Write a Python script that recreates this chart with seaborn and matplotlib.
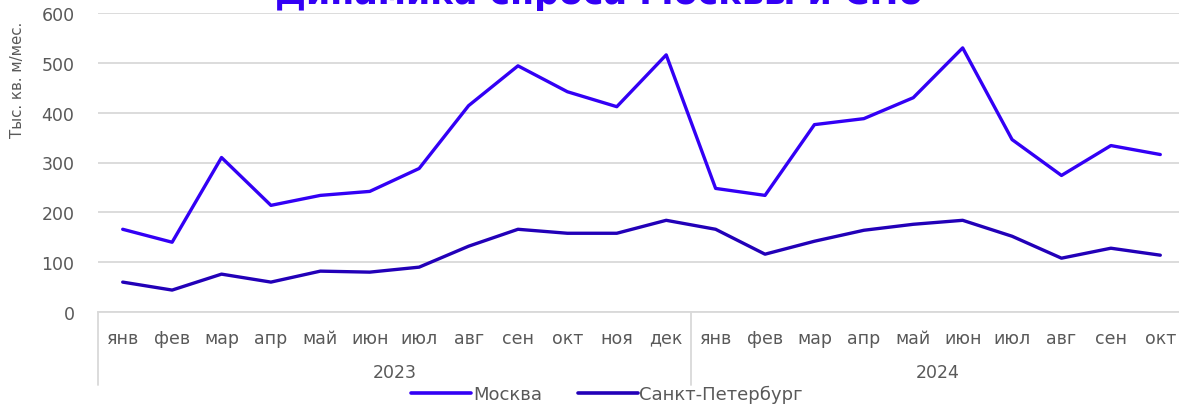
import matplotlib
matplotlib.use('Agg')
import matplotlib.pyplot as plt
import matplotlib.transforms as mtransforms
import seaborn as sns
import numpy as np
import pandas as pd

# ── Данные ─────────────────────────────────────────────────────────
months = ['янв', 'фев', 'мар', 'апр', 'май', 'июн', 'июл', 'авг', 'сен', 'окт', 'ноя', 'дек',
          'янв', 'фев', 'мар', 'апр', 'май', 'июн', 'июл', 'авг', 'сен', 'окт']
years = ['2023', '2024']
year_sizes = [12, 10]
moscow = [166, 140, 310, 214, 234, 242, 288, 414, 494, 442, 412, 516,
          248, 234, 376, 388, 430, 530, 346, 274, 334, 316]
spb = [60, 44, 76, 60, 82, 80, 90, 132, 166, 158, 158, 184,
       166, 116, 142, 164, 176, 184, 152, 108, 128, 114]
series_names = ['Москва', 'Санкт-Петербург']

COL_MSK = '#3300F5'
COL_SPB = '#2200B8'
GRAY = '#595959'
GRID = '#D9D9D9'

# ── Стиль ──────────────────────────────────────────────────────────
sns.set_theme(style='white')
plt.rcParams['font.family'] = ['DejaVu Sans']

W, H = 1179, 406
fig = plt.figure(figsize=(W / 100, H / 100), dpi=100)
n = len(months)
left_px, right_px, top_px, bot_px = 98, 1185, 14, 313
ax = fig.add_axes([left_px / W, 1 - bot_px / H, (right_px - left_px) / W, (bot_px - top_px) / H])

df = pd.DataFrame({
    'idx': np.tile(np.arange(n), 2),
    'val': moscow + spb,
    'city': [series_names[0]] * n + [series_names[1]] * n,
})
sns.lineplot(data=df, x='idx', y='val', hue='city', palette=[COL_MSK, COL_SPB],
             linewidth=2.4, ax=ax, legend=False)

ax.set_xlim(-0.5, n - 0.5)
ax.set_ylim(0, 600)
ax.set_yticks(range(0, 601, 100))
ax.yaxis.grid(True, color=GRID, linewidth=1.3)
ax.set_axisbelow(True)
for s in ['left', 'right', 'top']:
    ax.spines[s].set_visible(False)
ax.spines['bottom'].set_color(GRID)
ax.spines['bottom'].set_linewidth(1.3)
ax.tick_params(axis='y', length=0, pad=17, labelsize=12.5, labelcolor=GRAY)
ax.set_xticks(range(n))
ax.set_xticklabels(months)
ax.tick_params(axis='x', length=0, pad=12, labelsize=12.5, labelcolor=GRAY)
ax.set_xlabel('')
ax.set_ylabel('')

# вертикальные разделители и подписи годов
trans = mtransforms.blended_transform_factory(ax.transData, ax.transAxes)
start = 0
bounds = [-0.5]
for yr, sz in zip(years, year_sizes):
    ax.text(start + (sz - 1) / 2, -0.2, yr, transform=trans, ha='center', va='center',
            fontsize=12.5, color=GRAY)
    start += sz
    bounds.append(start - 0.5)
for b in bounds:
    ax.plot([b, b], [0, -0.245], transform=trans, color=GRID, linewidth=1.3, clip_on=False)

fig.text(18 / W, 1 - 80 / H, 'Тыс. кв. м/мес.', rotation=90, ha='center', va='center',
         fontsize=10.8, color=GRAY)

fig.text(0.508, 1 - 4 / H, 'Динамика спроса Москвы и СПб', ha='center', va='baseline',
         fontsize=25, fontweight='bold', color=COL_MSK)

handles = [plt.Line2D([], [], color=COL_MSK, linewidth=2.6),
           plt.Line2D([], [], color=COL_SPB, linewidth=2.6)]
leg = fig.legend(handles, series_names, loc='center', bbox_to_anchor=(0.515, 1 - 395 / H),
                 ncol=2, frameon=False, fontsize=13, handlelength=3.3, handletextpad=0.1,
                 columnspacing=2.0, borderpad=0)
for t in leg.get_texts():
    t.set_color(GRAY)

plt.savefig('out.png', dpi=100)
